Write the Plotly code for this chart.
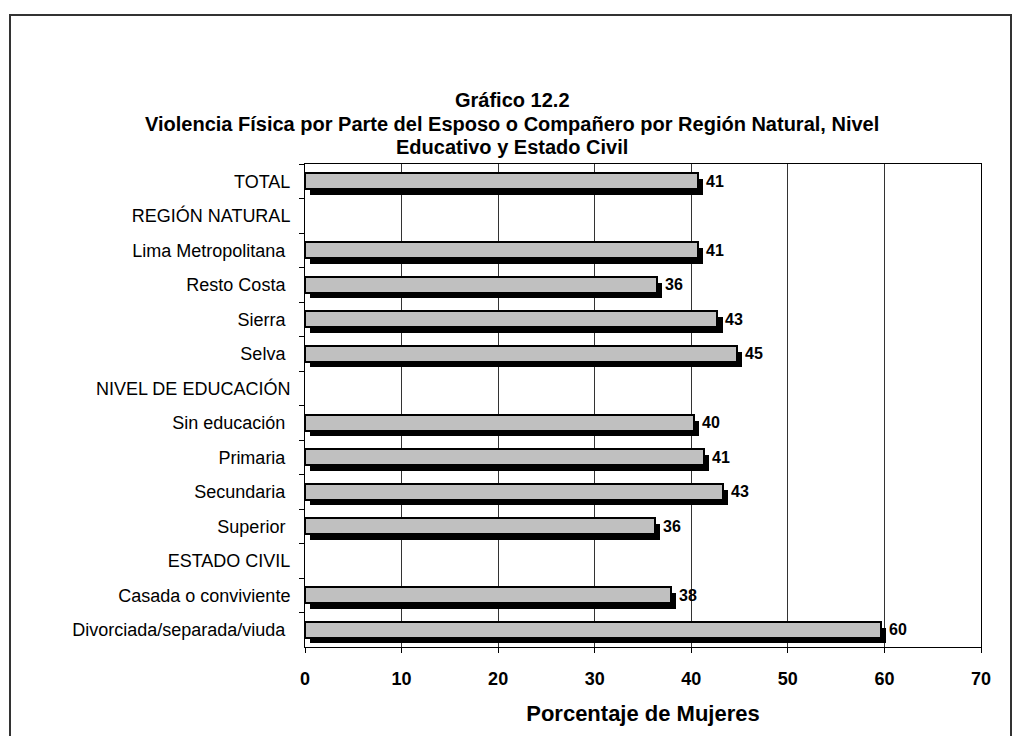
import plotly.graph_objects as go

# Categories (top to bottom) and percentage of women by group
categories = [
    "TOTAL",
    "REGIÓN NATURAL",
    "Lima Metropolitana\u00a0",
    "Resto Costa\u00a0",
    "Sierra\u00a0",
    "Selva\u00a0",
    "NIVEL DE EDUCACIÓN",
    "Sin educación\u00a0",
    "Primaria\u00a0",
    "Secundaria\u00a0",
    "Superior\u00a0",
    "ESTADO CIVIL",
    "Casada o conviviente",
    "Divorciada/separada/viuda\u00a0",
]
values = [40.7, None, 40.7, 36.4, 42.7, 44.7, None, 40.3, 41.3, 43.3, 36.2, None, 37.9, 59.6]

x_ticks = [0, 10, 20, 30, 40, 50, 60, 70]

FONT = "Liberation Sans, Arial, sans-serif"
BAR_W = 0.45
SHADOW_DX = 0.55   # horizontal shadow shift in x units
SHADOW_DY = 0.17   # vertical shadow shift in category units

fig = go.Figure()

# drop shadow behind each bar
fig.add_trace(go.Bar(
    y=categories, x=values, base=SHADOW_DX, orientation="h",
    width=BAR_W, offset=-BAR_W / 2 + SHADOW_DY,
    marker=dict(color="black", line=dict(width=0)),
    hoverinfo="skip", showlegend=False,
))
# main grey bars
fig.add_trace(go.Bar(
    y=categories, x=values, orientation="h",
    width=BAR_W, offset=-BAR_W / 2,
    marker=dict(color="#C0C0C0", line=dict(color="black", width=2)),
    showlegend=False,
))

# value labels
for cat, v in zip(categories, values):
    if v is None:
        continue
    fig.add_annotation(
        x=v, y=cat, xref="x", yref="y", text=f"<b>{v:.0f}</b>",
        showarrow=False, xanchor="left", yanchor="middle", xshift=6,
        font=dict(family=FONT, size=16, color="black"),
    )

# title lines
title_lines = [
    ("Gráfico 12.2", 100),
    ("Violencia Física por Parte del Esposo o Compañero por Región Natural, Nivel", 124),
    ("Educativo y Estado Civil", 147),
]
PLOT_TOP, PLOT_BOTTOM, PLOT_LEFT, PLOT_RIGHT = 164, 647, 305, 981
ph = PLOT_BOTTOM - PLOT_TOP
pw = PLOT_RIGHT - PLOT_LEFT
for text, ypx in title_lines:
    fig.add_annotation(
        x=(512 - PLOT_LEFT) / pw, y=(PLOT_BOTTOM - ypx) / ph,
        xref="paper", yref="paper", text=f"<b>{text}</b>",
        showarrow=False, xanchor="center", yanchor="middle",
        font=dict(family=FONT, size=20, color="black"),
    )

# outer frame of the chart
fig.add_shape(
    type="rect", xref="paper", yref="paper",
    x0=(10 - PLOT_LEFT) / pw, x1=(1011 - PLOT_LEFT) / pw,
    y0=(PLOT_BOTTOM - 760) / ph, y1=(PLOT_BOTTOM - 15) / ph,
    line=dict(color="#333333", width=2), fillcolor="rgba(0,0,0,0)",
    layer="below",
)

fig.update_layout(
    width=1013, height=736,
    margin=dict(l=PLOT_LEFT, r=1013 - PLOT_RIGHT, t=PLOT_TOP, b=736 - PLOT_BOTTOM),
    paper_bgcolor="white", plot_bgcolor="white",
    barmode="overlay", bargap=0,
    font=dict(family=FONT, color="black"),
    xaxis=dict(
        range=[0, 70], tickvals=x_ticks, ticktext=[f"<b>{t}</b>" for t in x_ticks],
        showgrid=True, gridcolor="#333333", gridwidth=1,
        showline=True, linecolor="black", linewidth=1, mirror=True,
        ticks="outside", ticklen=5, tickcolor="black",
        tickfont=dict(family=FONT, size=18, color="black"),
        ticklabelstandoff=10,
        zeroline=False,
        title=dict(text="<b>Porcentaje de Mujeres</b>",
                   font=dict(family=FONT, size=22, color="black"), standoff=18),
    ),
    yaxis=dict(
        type="category", autorange="reversed",
        showgrid=False, showline=True, linecolor="black", linewidth=1, mirror=True,
        ticks="outside", ticklen=5, tickcolor="black", tickson="boundaries",
        tickfont=dict(family=FONT, size=18, color="black"),
        ticklabelstandoff=10,
    ),
)

fig.write_html("out.html")
